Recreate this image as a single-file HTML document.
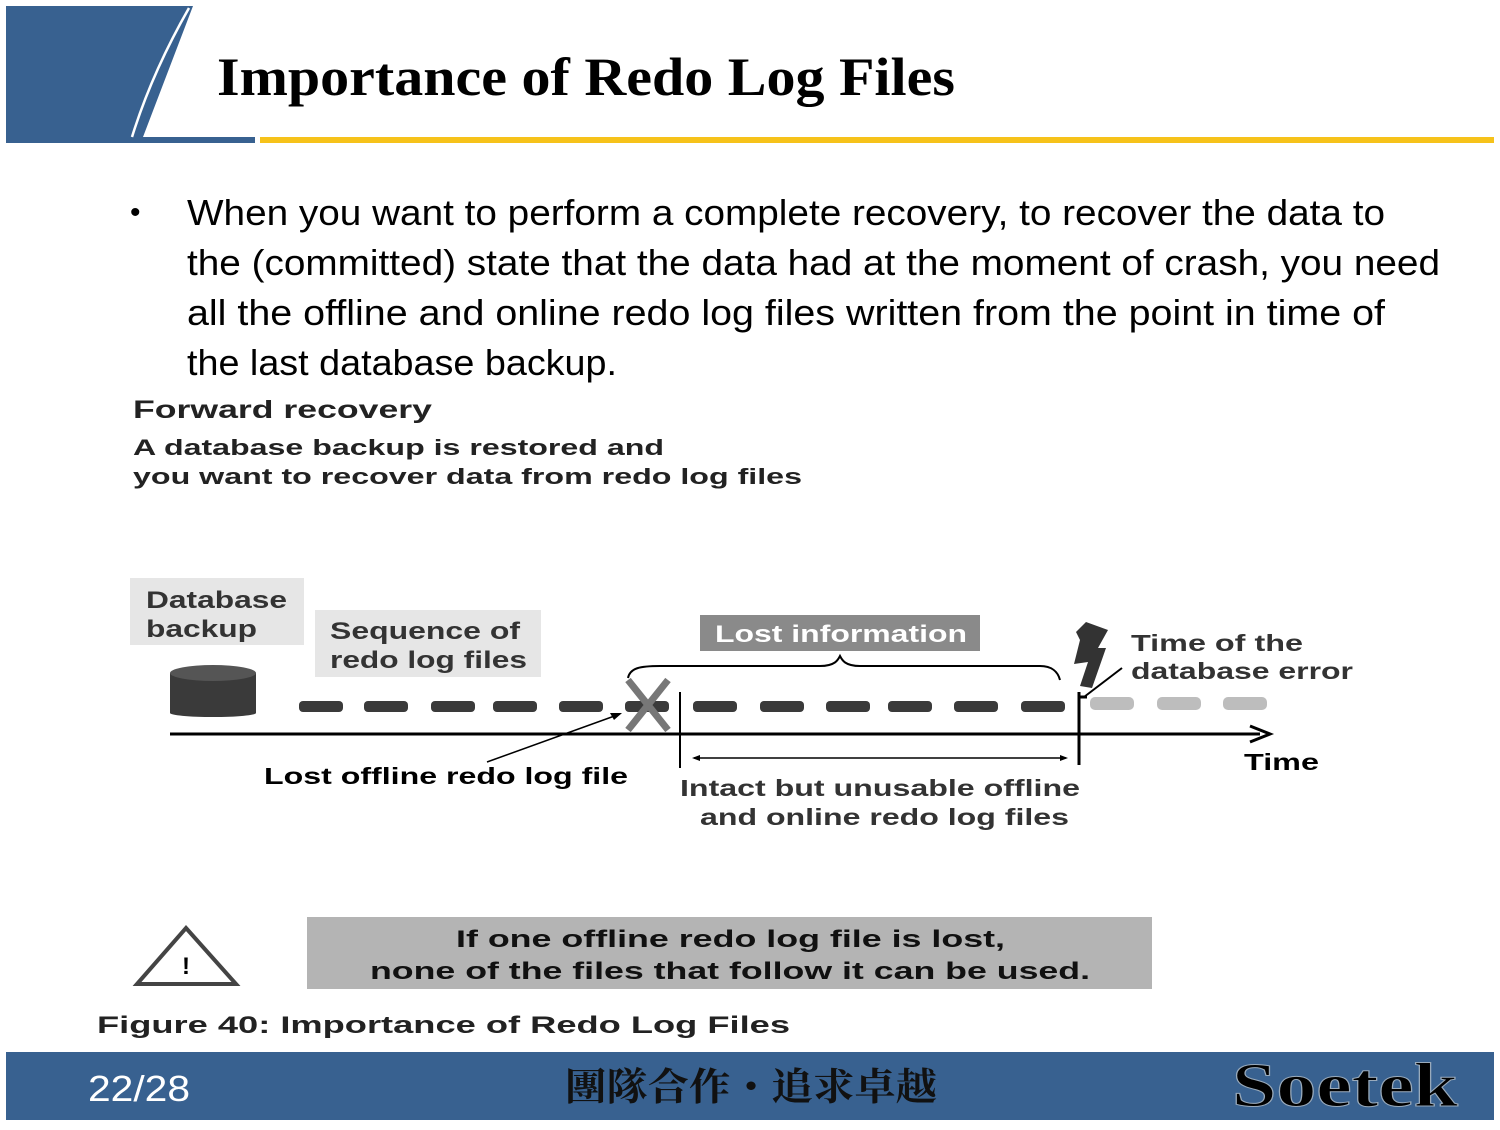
<!DOCTYPE html>
<html><head><meta charset="utf-8"><style>
body{margin:0;background:#fff;}
svg text{font-family:"Liberation Sans",sans-serif;}
</style></head><body>
<svg width="1500" height="1125" viewBox="0 0 1500 1125" xmlns="http://www.w3.org/2000/svg">
<!-- header -->
<polygon points="6,6 193,6 143,137 255,137 255,143 6,143" fill="#386190"/>
<path d="M189,8 C165,50 145,95 132,137" stroke="#fff" stroke-width="2.5" fill="none"/>
<rect x="260" y="137" width="1234" height="6" fill="#f6c21a"/>
<text x="217" y="95" style="font-family:'Liberation Serif',serif" font-weight="bold" font-size="54" textLength="738" lengthAdjust="spacingAndGlyphs">Importance of Redo Log Files</text>
<!-- bullet -->
<g font-size="36">
<text x="130" y="222" font-size="30">•</text>
<text x="187" y="225" textLength="1198" lengthAdjust="spacingAndGlyphs">When you want to perform a complete recovery, to recover the data to</text>
<text x="187" y="275" textLength="1253" lengthAdjust="spacingAndGlyphs">the (committed) state that the data had at the moment of crash, you need</text>
<text x="187" y="325" textLength="1198" lengthAdjust="spacingAndGlyphs">all the offline and online redo log files written from the point in time of</text>
<text x="187" y="375" textLength="430" lengthAdjust="spacingAndGlyphs">the last database backup.</text>
</g>
<g font-weight="bold" fill="#222">
<text x="133" y="418" font-size="25" textLength="299" lengthAdjust="spacingAndGlyphs">Forward recovery</text>
<text x="133" y="455" font-size="22" textLength="531" lengthAdjust="spacingAndGlyphs">A database backup is restored and</text>
<text x="133" y="484" font-size="22" textLength="669" lengthAdjust="spacingAndGlyphs">you want to recover data from redo log files</text>
</g>
<!-- label boxes -->
<rect x="130" y="578" width="174" height="67" fill="#e6e6e6"/>
<g font-size="24" font-weight="bold" fill="#333">
<text x="146" y="608" textLength="141" lengthAdjust="spacingAndGlyphs">Database</text>
<text x="146" y="637" textLength="111" lengthAdjust="spacingAndGlyphs">backup</text>
</g>
<rect x="315" y="610" width="226" height="67" fill="#e6e6e6"/>
<g font-size="24" font-weight="bold" fill="#333">
<text x="330" y="639" textLength="190" lengthAdjust="spacingAndGlyphs">Sequence of</text>
<text x="330" y="668" textLength="197" lengthAdjust="spacingAndGlyphs">redo log files</text>
</g>
<rect x="700" y="615" width="280" height="36" fill="#8a8a8a"/>
<text x="715" y="642" font-size="24" font-weight="bold" fill="#fff" textLength="252" lengthAdjust="spacingAndGlyphs">Lost information</text>
<!-- big cylinder -->
<rect x="170" y="673" width="86" height="40" fill="#3a3a3a"/>
<ellipse cx="213" cy="713" rx="43" ry="4" fill="#3a3a3a"/>
<ellipse cx="213" cy="673" rx="43" ry="8" fill="#555"/>
<!-- small disks -->
<g fill="#3a3a3a">
<rect x="299" y="701" width="44" height="11" rx="4"/>
<rect x="364" y="701" width="44" height="11" rx="4"/>
<rect x="431" y="701" width="44" height="11" rx="4"/>
<rect x="493" y="701" width="44" height="11" rx="4"/>
<rect x="559" y="701" width="44" height="11" rx="4"/>
<rect x="625" y="701" width="44" height="11" rx="4"/>
<rect x="693" y="701" width="44" height="11" rx="4"/>
<rect x="760" y="701" width="44" height="11" rx="4"/>
<rect x="826" y="701" width="44" height="11" rx="4"/>
<rect x="888" y="701" width="44" height="11" rx="4"/>
<rect x="954" y="701" width="44" height="11" rx="4"/>
<rect x="1021" y="701" width="44" height="11" rx="4"/>
</g>
<g fill="#bdbdbd">
<rect x="1090" y="697" width="44" height="13" rx="5"/>
<rect x="1157" y="697" width="44" height="13" rx="5"/>
<rect x="1223" y="697" width="44" height="13" rx="5"/>
</g>
<!-- X -->
<path d="M628,680 L668,730 M668,680 L628,730" stroke="#777" stroke-width="7"/>
<!-- timeline -->
<line x1="170" y1="734" x2="1260" y2="734" stroke="#000" stroke-width="3"/>
<path d="M1250,726 L1270,734 L1250,742" stroke="#000" stroke-width="3" fill="none"/>
<line x1="680" y1="692" x2="680" y2="768" stroke="#000" stroke-width="2"/>
<line x1="1079" y1="692" x2="1079" y2="765" stroke="#000" stroke-width="3"/>
<line x1="1079" y1="697" x2="1087" y2="697" stroke="#000" stroke-width="3"/>
<line x1="694" y1="758" x2="1066" y2="758" stroke="#000" stroke-width="1.5"/>
<path d="M700,755 L692,758 L700,761 Z M1060,755 L1068,758 L1060,761Z" fill="#000"/>
<!-- brace -->
<path d="M628,678 C630,668 640,666 660,666 L820,666 C835,666 838,660 840,656 C842,660 845,666 860,666 L1040,666 C1052,666 1058,672 1060,680" stroke="#000" stroke-width="2" fill="none"/>
<!-- lost arrow -->
<line x1="487" y1="762" x2="620" y2="714" stroke="#000" stroke-width="1.5"/>
<path d="M622,713 L610,713 L614,720 Z" fill="#000"/>
<!-- lightning -->
<polygon points="1086,622 1108,630 1098,648 1106,648 1092,688 1080,686 1088,662 1074,664 1080,640 1076,632" fill="#333"/>
<line x1="1122" y1="668" x2="1084" y2="697" stroke="#000" stroke-width="2"/>
<g font-size="23" font-weight="bold" fill="#333">
<text x="1131" y="651" textLength="172" lengthAdjust="spacingAndGlyphs">Time of the</text>
<text x="1131" y="679" textLength="222" lengthAdjust="spacingAndGlyphs">database error</text>
<text x="680" y="796" textLength="400" lengthAdjust="spacingAndGlyphs">Intact but unusable offline</text>
<text x="700" y="825" textLength="369" lengthAdjust="spacingAndGlyphs">and online redo log files</text>
</g>
<text x="1244" y="770" font-size="23" font-weight="bold" textLength="75" lengthAdjust="spacingAndGlyphs">Time</text>
<text x="264" y="784" font-size="23" font-weight="bold" textLength="364" lengthAdjust="spacingAndGlyphs">Lost offline redo log file</text>
<!-- warning -->
<polygon points="186,928 236,984 137,984" fill="none" stroke="#444" stroke-width="4"/>
<text x="186" y="974" text-anchor="middle" font-size="24" font-weight="bold">!</text>
<rect x="307" y="917" width="845" height="72" fill="#b4b4b4"/>
<g font-size="24" font-weight="bold" fill="#111">
<text x="456" y="947" textLength="549" lengthAdjust="spacingAndGlyphs">If one offline redo log file is lost,</text>
<text x="370" y="979" textLength="720" lengthAdjust="spacingAndGlyphs">none of the files that follow it can be used.</text>
</g>
<text x="97" y="1033" font-size="24" font-weight="bold" fill="#222" textLength="693" lengthAdjust="spacingAndGlyphs">Figure 40:  Importance of Redo Log Files</text>
<!-- footer -->
<rect x="6" y="1052" width="1488" height="68" fill="#386190"/>
<text x="88" y="1101" font-size="36" fill="#fff" textLength="102" lengthAdjust="spacingAndGlyphs">22/28</text>
<text x="565" y="1100" font-size="38" font-weight="bold" fill="#111" style="font-family:'Noto Serif CJK SC','Noto Sans CJK TC',serif" textLength="372" lengthAdjust="spacingAndGlyphs">團隊合作・追求卓越</text>
<text x="1232" y="1106" style="font-family:'Liberation Serif',serif" font-size="62" font-weight="bold" fill="#000" stroke="#9ab" stroke-width="1" textLength="226" lengthAdjust="spacingAndGlyphs">Soetek</text>
</svg>
</body></html>
